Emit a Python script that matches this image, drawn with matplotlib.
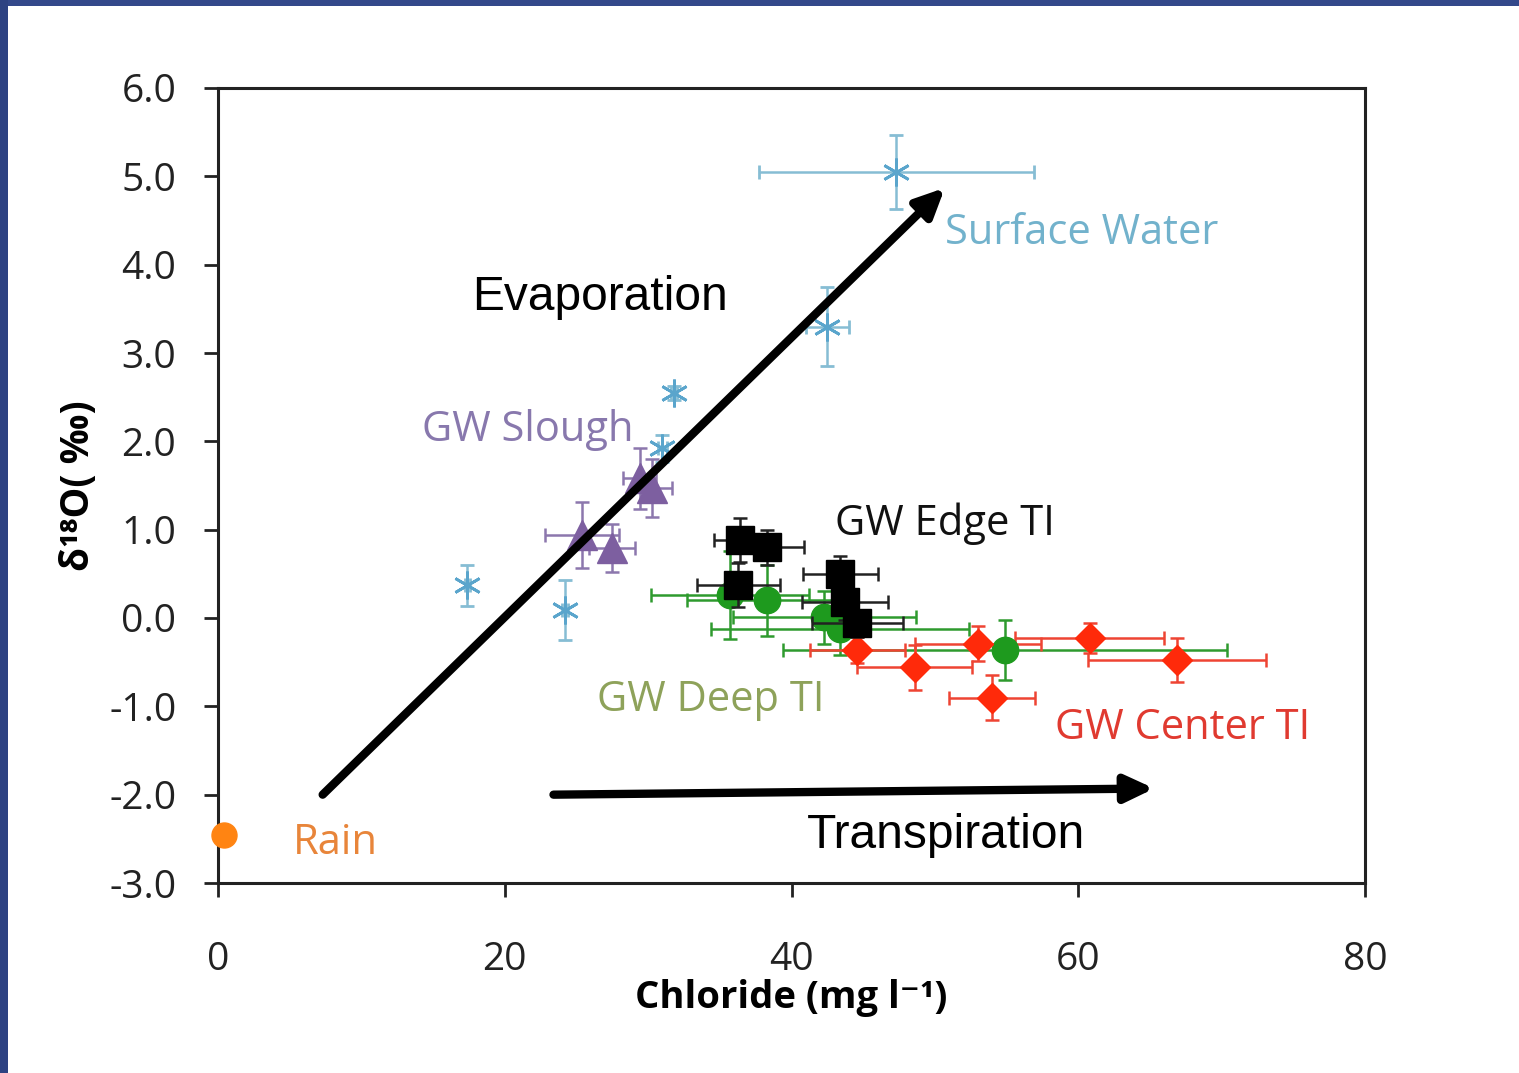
import matplotlib.pyplot as plt
from matplotlib.patches import Rectangle

# ------------------------------------------------------------------ #
#                              DATOS
# ------------------------------------------------------------------ #
sw_cl = [47.3, 42.5, 31.8, 31.0, 17.4, 24.2]
sw_o18 = [5.05, 3.30, 2.55, 1.92, 0.37, 0.09]
sw_xerr = [9.6, 1.5, 0.2, 0.3, 0.2, 0.2]
sw_yerr = [0.42, 0.45, 0.08, 0.15, 0.23, 0.34]

slough_cl = [29.4, 30.3, 25.4, 27.5]
slough_o18 = [1.58, 1.47, 0.94, 0.79]
slough_xerr = [1.15, 1.4, 2.6, 1.6]
slough_yerr = [0.35, 0.33, 0.37, 0.27]

edge_cl = [36.4, 38.3, 43.4, 36.3, 43.7, 44.6]
edge_o18 = [0.88, 0.80, 0.50, 0.37, 0.18, -0.06]
edge_xerr = [1.8, 2.6, 2.6, 2.9, 3.0, 3.2]
edge_yerr = [0.25, 0.2, 0.2, 0.25, 0.2, 0.15]

deep_cl = [35.7, 38.3, 42.3, 43.4, 54.9]
deep_o18 = [0.26, 0.20, 0.01, -0.12, -0.36]
deep_xerr = [5.5, 5.6, 6.4, 9.0, 15.5]
deep_yerr = [0.5, 0.4, 0.3, 0.3, 0.34]

center_cl = [44.6, 48.6, 53.0, 54.0, 60.8, 66.9]
center_o18 = [-0.36, -0.56, -0.29, -0.90, -0.23, -0.48]
center_xerr = [3.3, 4.0, 4.4, 3.0, 5.2, 6.2]
center_yerr = [0.15, 0.25, 0.2, 0.25, 0.17, 0.25]

rain_cl = [0.4]
rain_o18 = [-2.46]

x_ticks = [0, 20, 40, 60, 80]
y_ticks = [-3, -2, -1, 0, 1, 2, 3, 4, 5, 6]
y_ticklabels = ["-3.0", "-2.0", "-1.0", "0.0", "1.0", "2.0", "3.0", "4.0", "5.0", "6.0"]

FUENTE = ["Open Sans", "DejaVu Sans"]
ARIAL = ["Liberation Sans", "DejaVu Sans"]
plt.rcParams["font.family"] = FUENTE

# ------------------------------------------------------------------ #
#                              FIGURA
# ------------------------------------------------------------------ #
fig = plt.figure(figsize=(15.19, 10.73), dpi=100)
fig.patch.set_facecolor("white")

# marco azul (arriba e izquierda)
fig.patches.append(Rectangle((0, 1 - 6 / 1073), 1, 6 / 1073, transform=fig.transFigure,
                             facecolor="#33488a", edgecolor="none", zorder=0))
fig.patches.append(Rectangle((0, 0), 8 / 1519, 1, transform=fig.transFigure,
                             facecolor="#2d4282", edgecolor="none", zorder=0))

ax = fig.add_axes([218 / 1519, 1 - 883 / 1073, (1365 - 218) / 1519, (883 - 88) / 1073])

eb = dict(linestyle="none", elinewidth=1.8, capsize=5, capthick=1.8)

ax.errorbar(sw_cl, sw_o18, xerr=sw_xerr, yerr=sw_yerr, marker=(6, 2, 0), ms=20, mew=2,
            color="#5aa5cc", ecolor="#86bdd4", **eb, zorder=3)
ax.errorbar(slough_cl, slough_o18, xerr=slough_xerr, yerr=slough_yerr, marker="^", ms=21,
            color="#7d5fa0", ecolor="#8c77ad", **eb, zorder=3)
ax.errorbar(deep_cl, deep_o18, xerr=deep_xerr, yerr=deep_yerr, marker="o", ms=19,
            color="#1e9a1e", ecolor="#2e9a2e", **eb, zorder=3)
ax.errorbar(center_cl, center_o18, xerr=center_xerr, yerr=center_yerr, marker="D", ms=15,
            color="#ff2a0a", ecolor="#ee4433", **eb, zorder=3)
ax.errorbar(edge_cl, edge_o18, xerr=edge_xerr, yerr=edge_yerr, marker="s", ms=20,
            color="black", ecolor="#222222", **eb, zorder=4)
ax.plot(rain_cl, rain_o18, "o", ms=18, color="#ff8412", clip_on=False, zorder=5)

# flechas
flecha = dict(arrowstyle="-|>,head_length=1.7,head_width=0.8", lw=6, color="black",
              shrinkA=0, shrinkB=0)
ax.annotate("", xy=(50.7, 4.87), xytext=(7.3, -2.0), arrowprops=flecha, zorder=6)
ax.annotate("", xy=(65.3, -1.93), xytext=(23.4, -2.0), arrowprops=flecha, zorder=6)

# textos
fs = 30
fs_arial = 34.5
ax.text(50.7, 4.36, "Surface Water", color="#72b2cc", fontsize=fs, va="center")
ax.text(17.7, 3.63, "Evaporation", color="black", fontsize=fs_arial, va="center", family=ARIAL)
ax.text(14.2, 2.13, "GW Slough", color="#8878ad", fontsize=fs, va="center")
ax.text(43.0, 1.07, "GW Edge TI", color="#111111", fontsize=fs, va="center")
ax.text(26.4, -0.93, "GW Deep TI", color="#8ea25a", fontsize=fs, va="center")
ax.text(58.4, -1.25, "GW Center TI", color="#e03a30", fontsize=fs, va="center")
ax.text(41.1, -2.46, "Transpiration", color="black", fontsize=fs_arial, va="center", family=ARIAL)
ax.text(5.2, -2.55, "Rain", color="#e8853a", fontsize=fs, va="center")

# ejes
ax.set_xlim(0, 80)
ax.set_ylim(-3, 6)
ax.set_xticks(x_ticks)
ax.set_yticks(y_ticks)
ax.set_yticklabels(y_ticklabels)
ax.tick_params(direction="out", length=10, width=2, labelsize=28, colors="#222222")
ax.tick_params(axis="x", pad=32)
ax.tick_params(axis="y", pad=20)
for s in ax.spines.values():
    s.set_linewidth(2.2)
    s.set_color("#222222")

ax.set_xlabel("Chloride (mg l⁻¹)", fontsize=27.5, fontweight="bold", labelpad=0)
ax.set_ylabel("δ¹⁸O( ‰)", fontsize=28, fontweight="bold", labelpad=8)

fig.savefig("out.png", dpi=100)
